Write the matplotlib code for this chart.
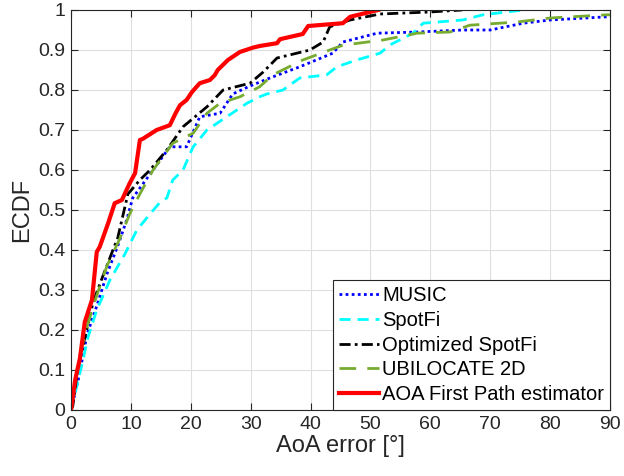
import numpy as np
import matplotlib
matplotlib.use("Agg")
import matplotlib.pyplot as plt

# ===== data (AoA error in deg, ECDF) =====
music_x = [0, 1.2, 2.7, 4.3, 6.0, 7.8, 9.3, 10.3, 13.7, 16.5, 19.3, 21.5, 24.9, 27.0,
           29.9, 33.2, 38.2, 43.7, 45.4, 51.1, 57.8, 65.4, 70.0, 75.5, 80.0, 89.5, 90]
music_y = [0, 0.075, 0.19, 0.26, 0.34, 0.41, 0.475, 0.53, 0.60, 0.658, 0.658, 0.733, 0.742, 0.79,
           0.81, 0.83, 0.858, 0.892, 0.92, 0.942, 0.945, 0.95, 0.95, 0.967, 0.975, 0.983, 0.983]

spotfi_x = [0, 2.0, 2.8, 4.3, 6.5, 9.0, 11.0, 13.2, 14.9, 16.0, 17.0, 18.7, 20.4, 22.7, 26.0,
            29.4, 31.5, 32.7, 35.4, 38.2, 42.7, 44.4, 47.7, 51.6, 53.3, 57.1, 58.8, 65.4,
            68.8, 75.5]
spotfi_y = [0, 0.125, 0.18, 0.25, 0.325, 0.39, 0.45, 0.49, 0.52, 0.53, 0.575, 0.60, 0.658, 0.70,
            0.733, 0.767, 0.783, 0.79, 0.80, 0.83, 0.838, 0.858, 0.875, 0.892, 0.913, 0.942,
            0.967, 0.975, 0.988, 1.0]

opt_x = [0, 0.3, 1.2, 2.3, 3.7, 5.2, 7.0, 7.8, 9.5, 11.5, 13.2, 16.0, 18.7, 22.7, 25.4,
         29.9, 32.1, 34.4, 39.9, 42.1, 43.2, 46.6, 51.6, 59.9, 65.3]
opt_y = [0, 0.01, 0.11, 0.18, 0.27, 0.33, 0.40, 0.43, 0.54, 0.575, 0.60, 0.65, 0.708, 0.758, 0.80,
         0.817, 0.845, 0.88, 0.90, 0.92, 0.958, 0.975, 0.99, 0.995, 1.0]

ubi_x = [0, 1.2, 2.7, 3.7, 6.0, 8.2, 9.8, 11.5, 13.7, 17.0, 20.4, 22.7, 24.9, 28.2, 31.5,
         33.7, 38.7, 43.2, 45.4, 52.1, 57.8, 63.3, 66.6, 74.5, 80.0, 89.5, 90]
ubi_y = [0, 0.12, 0.21, 0.26, 0.36, 0.43, 0.49, 0.54, 0.60, 0.667, 0.692, 0.742, 0.767, 0.783,
         0.808, 0.838, 0.875, 0.90, 0.912, 0.925, 0.942, 0.945, 0.962, 0.97, 0.98, 0.988, 0.988]

aoa_x = [0, 0.7, 1.5, 2.3, 3.5, 4.3, 4.8, 6.2, 7.3, 8.5, 9.8, 10.7, 11.5, 12.0, 14.3, 16.5,
         17.4, 18.2, 19.3, 20.2, 21.5, 23.2, 24.0, 24.5, 26.2, 28.2, 30.4, 31.5, 34.4, 34.9,
         38.7, 39.6, 45.4, 46.6, 51.3]
aoa_y = [0, 0.075, 0.13, 0.22, 0.275, 0.395, 0.408, 0.467, 0.517, 0.525, 0.567, 0.592, 0.675,
         0.678, 0.70, 0.712, 0.740, 0.762, 0.775, 0.795, 0.817, 0.825, 0.837, 0.85, 0.875,
         0.895, 0.906, 0.910, 0.917, 0.927, 0.94, 0.96, 0.967, 0.983, 1.0]

labels = ["MUSIC", "SpotFi", "Optimized SpotFi", "UBILOCATE 2D", "AOA First Path estimator"]
x_ticks = list(range(0, 91, 10))
y_ticks = [round(0.1 * i, 1) for i in range(11)]
y_tick_labels = ["0", "0.1", "0.2", "0.3", "0.4", "0.5", "0.6", "0.7", "0.8", "0.9", "1"]

plt.rcParams["font.family"] = ["Liberation Sans", "DejaVu Sans"]

fig = plt.figure(figsize=(6.24, 4.76), dpi=100)
ax = fig.add_axes([71 / 624, 66 / 476, 539 / 624, 400 / 476])

ax.plot(music_x, music_y, color=(0, 0, 1), lw=2.0, ls=(0, (1, 1.2)), label=labels[0])
ax.plot(spotfi_x, spotfi_y, color=(0, 1, 1), lw=2.0, ls=(0, (4, 2.5)), label=labels[1])
ax.plot(opt_x, opt_y, color="black", lw=2.0, ls=(0, (4, 1.5, 1, 1.5)), label=labels[2])
ax.plot(ubi_x, ubi_y, color=(0.466, 0.674, 0.188), lw=2.0, ls=(0, (6, 4)), label=labels[3])
ax.plot(aoa_x, aoa_y, color=(1, 0, 0), lw=3.0, ls="-", label=labels[4])

ax.set_xlim(0, 90)
ax.set_ylim(0, 1)
ax.set_xticks(x_ticks)
ax.set_yticks(y_ticks)
ax.set_yticklabels(y_tick_labels)
ax.tick_params(direction="in", top=True, right=True, labelsize=14, colors="#262626",
               length=5, width=0.8, pad=4)
ax.grid(True, color="#dfdfdf", lw=0.8)
ax.set_axisbelow(True)
for sp in ax.spines.values():
    sp.set_color("#262626")
    sp.set_linewidth(0.8)

ax.set_xlabel("AoA error [°]", fontsize=17, color="#262626", labelpad=2)
ax.set_ylabel("ECDF", fontsize=17, color="#262626", labelpad=4)

leg = ax.legend(loc="lower right", fontsize=14.5, frameon=True, fancybox=False,
                edgecolor="#262626", framealpha=1, borderaxespad=0, handlelength=2.0,
                handletextpad=0.15, labelspacing=0.28, borderpad=0.3)
leg.get_frame().set_linewidth(0.8)

fig.savefig("out.png", dpi=100)
